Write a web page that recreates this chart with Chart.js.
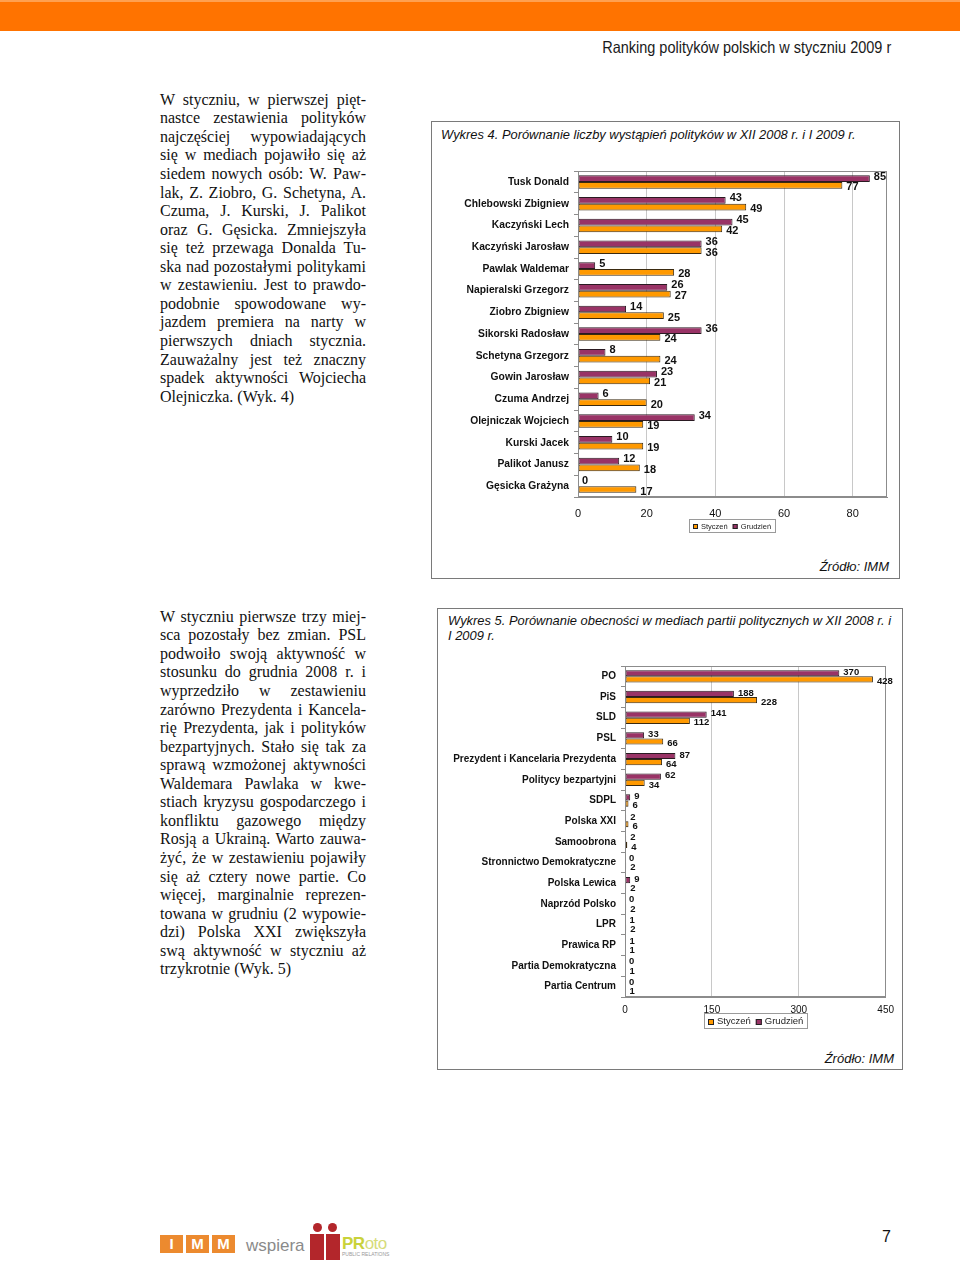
<!DOCTYPE html>
<html lang="pl">
<head>
<meta charset="utf-8">
<title>Ranking polityków polskich w styczniu 2009 r</title>
<script src="https://cdn.jsdelivr.net/npm/chart.js@4.4.1/dist/chart.umd.min.js"></script>
<style>
  html, body { margin: 0; padding: 0; background: #fff; }
  #page { position: relative; width: 960px; height: 1265px; overflow: hidden; background: #fff; }
  .band { position: absolute; left: 0; top: 0; width: 960px; height: 31px; background: #ff7300; border-top: 2px solid #ffa050; box-sizing: border-box; }
  .head { position: absolute; right: 69px; top: 38px; font: 16.5px "Liberation Sans", Arial, sans-serif; color: #1a1a1a; transform: scaleX(0.878); transform-origin: right center; }
  .col { position: absolute; left: 160px; width: 206px; font: 16px "Liberation Serif", "Times New Roman", serif; color: #111; }
  .col div { height: 18.57px; line-height: 18.57px; text-align: justify; text-align-last: justify; white-space: nowrap; }
  .col div.end { text-align-last: left; }
  .box { position: absolute; border: 1px solid #7a7a7a; box-sizing: border-box; }
  .ttl { position: absolute; font: italic 12.9px "Liberation Sans", Arial, sans-serif; color: #111; line-height: 15px; }
  .src { position: absolute; font: italic 13px "Liberation Sans", Arial, sans-serif; color: #111; }
  canvas { position: absolute; }
  .sq { position: absolute; top: 1235px; width: 23px; height: 18px; background: #ec8a2f; color: #fff; font: bold 15px "Liberation Sans", Arial, sans-serif; text-align: center; line-height: 18px; }
  .fig { position: absolute; background: #b3262b; }
</style>
</head>
<body>
<div id="page">
  <div class="band"></div>
  <div class="head">Ranking polityków polskich w styczniu 2009 r</div>

  <div class="col" style="top:90.7px">
    <div>W styczniu, w pierwszej pięt-</div>
    <div>nastce zestawienia polityków</div>
    <div>najczęściej wypowiadających</div>
    <div>się w mediach pojawiło się aż</div>
    <div>siedem nowych osób: W. Paw-</div>
    <div>lak, Z. Ziobro, G. Schetyna, A.</div>
    <div>Czuma, J. Kurski, J. Palikot</div>
    <div>oraz G. Gęsicka. Zmniejszyła</div>
    <div>się też przewaga Donalda Tu-</div>
    <div>ska nad pozostałymi politykami</div>
    <div>w zestawieniu. Jest to prawdo-</div>
    <div>podobnie spowodowane wy-</div>
    <div>jazdem premiera na narty w</div>
    <div>pierwszych dniach stycznia.</div>
    <div>Zauważalny jest też znaczny</div>
    <div>spadek aktywności Wojciecha</div>
    <div class="end">Olejniczka. (Wyk. 4)</div>
  </div>

  <div class="col" style="top:607.7px">
    <div>W styczniu pierwsze trzy miej-</div>
    <div>sca pozostały bez zmian. PSL</div>
    <div>podwoiło swoją aktywność w</div>
    <div>stosunku do grudnia 2008 r. i</div>
    <div>wyprzedziło w zestawieniu</div>
    <div>zarówno Prezydenta i Kancela-</div>
    <div>rię Prezydenta, jak i polityków</div>
    <div>bezpartyjnych. Stało się tak za</div>
    <div>sprawą wzmożonej aktywności</div>
    <div>Waldemara Pawlaka w kwe-</div>
    <div>stiach kryzysu gospodarczego i</div>
    <div>konfliktu gazowego między</div>
    <div>Rosją a Ukrainą. Warto zauwa-</div>
    <div>żyć, że w zestawieniu pojawiły</div>
    <div>się aż cztery nowe partie. Co</div>
    <div>więcej, marginalnie reprezen-</div>
    <div>towana w grudniu (2 wypowie-</div>
    <div>dzi) Polska XXI zwiększyła</div>
    <div>swą aktywność w styczniu aż</div>
    <div class="end">trzykrotnie (Wyk. 5)</div>
  </div>

  <div class="box" style="left:431px;top:121px;width:469px;height:458px"></div>
  <div class="ttl" style="left:441px;top:127px">Wykres 4. Porównanie liczby wystąpień polityków w XII 2008 r. i I 2009 r.</div>
  <canvas id="chart1" width="466" height="380" style="left:432px;top:160px;width:466px;height:380px"></canvas>
  <div class="src" style="right:71px;top:559px">Źródło: IMM</div>

  <div class="box" style="left:437px;top:608px;width:466px;height:462px"></div>
  <div class="ttl" style="left:448px;top:613px">Wykres 5. Porównanie obecności w mediach partii politycznych w XII 2008 r. i<br>I 2009 r.</div>
  <canvas id="chart2" width="463" height="380" style="left:438px;top:655px;width:463px;height:380px"></canvas>
  <div class="src" style="right:66px;top:1051px">Źródło: IMM</div>

  <div class="sq" style="left:160px">I</div>
  <div class="sq" style="left:186px">M</div>
  <div class="sq" style="left:212px">M</div>
  <div style="position:absolute;left:246px;top:1236px;font:17px 'Liberation Sans',Arial,sans-serif;color:#8a8a8a">wspiera</div>
  <div class="fig" style="left:313px;top:1223px;width:9px;height:9px;border-radius:50%"></div>
  <div class="fig" style="left:328px;top:1223px;width:9px;height:9px;border-radius:50%"></div>
  <div class="fig" style="left:310px;top:1234px;width:14px;height:26px"></div>
  <div class="fig" style="left:326px;top:1234px;width:14px;height:26px"></div>
  <div style="position:absolute;left:342px;top:1234px;font:bold 17px 'Liberation Sans',Arial,sans-serif;color:#c9d23a;letter-spacing:-0.5px">PR<span style="font-weight:normal;color:#d6dc7a">oto</span></div>
  <div style="position:absolute;left:342px;top:1251px;font:5px 'Liberation Sans',Arial,sans-serif;color:#999">PUBLIC RELATIONS</div>
  <div style="position:absolute;left:882px;top:1228px;font:16px 'Liberation Sans',Arial,sans-serif;color:#111">7</div>
</div>

<script>
// Wykres 4 - politycy
const people = ['Tusk Donald', 'Chlebowski Zbigniew', 'Kaczyński Lech', 'Kaczyński Jarosław',
  'Pawlak Waldemar', 'Napieralski Grzegorz', 'Ziobro Zbigniew', 'Sikorski Radosław',
  'Schetyna Grzegorz', 'Gowin Jarosław', 'Czuma Andrzej', 'Olejniczak Wojciech',
  'Kurski Jacek', 'Palikot Janusz', 'Gęsicka Grażyna']
const peopleGrudzien = [85, 43, 45, 36, 5, 26, 14, 36, 8, 23, 6, 34, 10, 12, 0]
const peopleStyczen = [77, 49, 42, 36, 28, 27, 25, 24, 24, 21, 20, 19, 19, 18, 17]
const peopleTicks = [0, 20, 40, 60, 80]
const peopleMax = 90

// Wykres 5 - partie
const parties = ['PO', 'PiS', 'SLD', 'PSL', 'Prezydent i Kancelaria Prezydenta',
  'Politycy bezpartyjni', 'SDPL', 'Polska XXI', 'Samoobrona', 'Stronnictwo Demokratyczne',
  'Polska Lewica', 'Naprzód Polsko', 'LPR', 'Prawica RP', 'Partia Demokratyczna', 'Partia Centrum']
const partiesGrudzien = [370, 188, 141, 33, 87, 62, 9, 2, 2, 0, 9, 0, 1, 1, 0, 0]
const partiesStyczen = [428, 228, 112, 66, 64, 34, 6, 6, 4, 2, 2, 2, 2, 1, 1, 1]
const partiesTicks = [0, 150, 300, 450]
const partiesMax = 450

const seriesNames = ['Grudzień', 'Styczeń']
const colGrudzien = '#993366'
const colStyczen = '#ff9900'

const FONT = '"Liberation Sans", Arial, sans-serif'
Chart.defaults.font.family = FONT
Chart.defaults.color = '#111'

// frame around the plot area (top + right edge)
const frameBorder = {
  id: 'frameBorder',
  afterDatasetsDraw(chart) {
    const a = chart.chartArea, c = chart.ctx
    c.save()
    c.strokeStyle = '#8c8c8c'
    c.lineWidth = 1
    c.strokeRect(Math.round(a.left) + 0.5, Math.round(a.top) + 0.5,
      Math.round(a.right - a.left) - 1, Math.round(a.bottom - a.top) - 1)
    c.restore()
  }
}

// numbers next to the bar ends
const valueLabels = {
  id: 'valueLabels',
  afterDatasetsDraw(chart, args, opts) {
    const c = chart.ctx
    c.save()
    c.font = 'bold ' + opts.size + 'px ' + FONT
    c.fillStyle = '#111'
    c.textAlign = 'left'
    c.textBaseline = 'middle'
    chart.data.datasets.forEach((ds, di) => {
      chart.getDatasetMeta(di).data.forEach((el, i) => {
        c.fillText(String(ds.data[i]), el.x + opts.dx, el.y + (di === 0 ? opts.dyTop : opts.dyBottom))
      })
    })
    c.restore()
  }
}

// small boxed legend under the axis, centred on the plot
const boxLegend = {
  id: 'boxLegend',
  afterDraw(chart, args, opts) {
    const c = chart.ctx, a = chart.chartArea
    const items = chart.data.datasets.map(d => ({ text: d.label, color: d.backgroundColor })).reverse()
    c.save()
    c.font = opts.size + 'px ' + FONT
    const padX = 4, sep = 5, gap = opts.box + 3
    let w = padX * 2
    items.forEach((it, i) => { w += gap + c.measureText(it.text).width + (i ? sep : 0) })
    const x = Math.round((a.left + a.right) / 2 - w / 2)
    const y = Math.round(a.bottom + opts.offset)
    c.strokeStyle = '#9a9a9a'
    c.lineWidth = 1
    c.strokeRect(x + 0.5, y + 0.5, Math.round(w), opts.height)
    let cx = x + padX
    const my = y + opts.height / 2 + 1
    items.forEach((it, i) => {
      if (i) cx += sep
      c.fillStyle = it.color
      c.fillRect(cx, Math.round(my - opts.box / 2), opts.box, opts.box)
      c.strokeStyle = '#222'
      c.strokeRect(cx + 0.5, Math.round(my - opts.box / 2) + 0.5, opts.box - 1, opts.box - 1)
      cx += gap
      c.fillStyle = '#222'
      c.textBaseline = 'middle'
      c.fillText(it.text, cx, my)
      cx += c.measureText(it.text).width
    })
    c.restore()
  }
}

function makeChart(id, labels, grud, sty, max, ticks, o) {
  const ctx = document.getElementById(id).getContext('2d')
  return new Chart(ctx, {
    type: 'bar',
    data: {
      labels: labels,
      datasets: [
        { label: seriesNames[0], data: grud, backgroundColor: colGrudzien, borderColor: '#2a1a22', borderWidth: 1, borderSkipped: false },
        { label: seriesNames[1], data: sty, backgroundColor: colStyczen, borderColor: '#3a2a10', borderWidth: 1, borderSkipped: false }
      ]
    },
    options: {
      indexAxis: 'y',
      responsive: false,
      animation: false,
      devicePixelRatio: 1,
      layout: { padding: o.padding },
      datasets: { bar: { categoryPercentage: o.catPct, barPercentage: 1 } },
      scales: {
        x: {
          min: 0,
          max: max,
          afterBuildTicks: s => { s.ticks = ticks.map(v => ({ value: v })) },
          afterFit: s => { s.height = o.xHeight },
          grid: { color: '#c8c8c8', drawTicks: false },
          border: { color: '#8c8c8c' },
          ticks: { padding: o.xPad, font: { size: o.xFont }, color: '#111' }
        },
        y: {
          afterFit: s => { s.width = o.yWidth },
          grid: { offset: true, drawOnChartArea: false, tickLength: 4, color: '#8c8c8c' },
          border: { color: '#8c8c8c' },
          ticks: { padding: 5, autoSkip: false, font: { size: o.yFont, weight: 'bold' }, color: '#111' }
        }
      },
      plugins: {
        legend: { display: false },
        tooltip: { enabled: false },
        valueLabels: { size: o.valSize, dx: 4, dyTop: o.dyTop, dyBottom: o.dyBottom },
        boxLegend: { size: o.legSize, box: o.legBox, offset: o.xHeight, height: o.legHeight }
      }
    },
    plugins: [frameBorder, valueLabels, boxLegend]
  })
}

makeChart('chart1', people, peopleGrudzien, peopleStyczen, peopleMax, peopleTicks, {
  padding: { top: 11, right: 11, bottom: 21, left: 0 },
  catPct: 0.62, xHeight: 22, xPad: 10, xFont: 11, yWidth: 146, yFont: 10.3,
  valSize: 11, dyTop: -2, dyBottom: 2, legSize: 7.5, legBox: 5, legHeight: 13
})

makeChart('chart2', parties, partiesGrudzien, partiesStyczen, partiesMax, partiesTicks, {
  padding: { top: 11, right: 14, bottom: 22, left: 0 },
  catPct: 0.6, xHeight: 16, xPad: 7, xFont: 10, yWidth: 187, yFont: 10,
  valSize: 9.5, dyTop: -1, dyBottom: 2, legSize: 9.5, legBox: 6, legHeight: 15
})
</script>
</body>
</html>
